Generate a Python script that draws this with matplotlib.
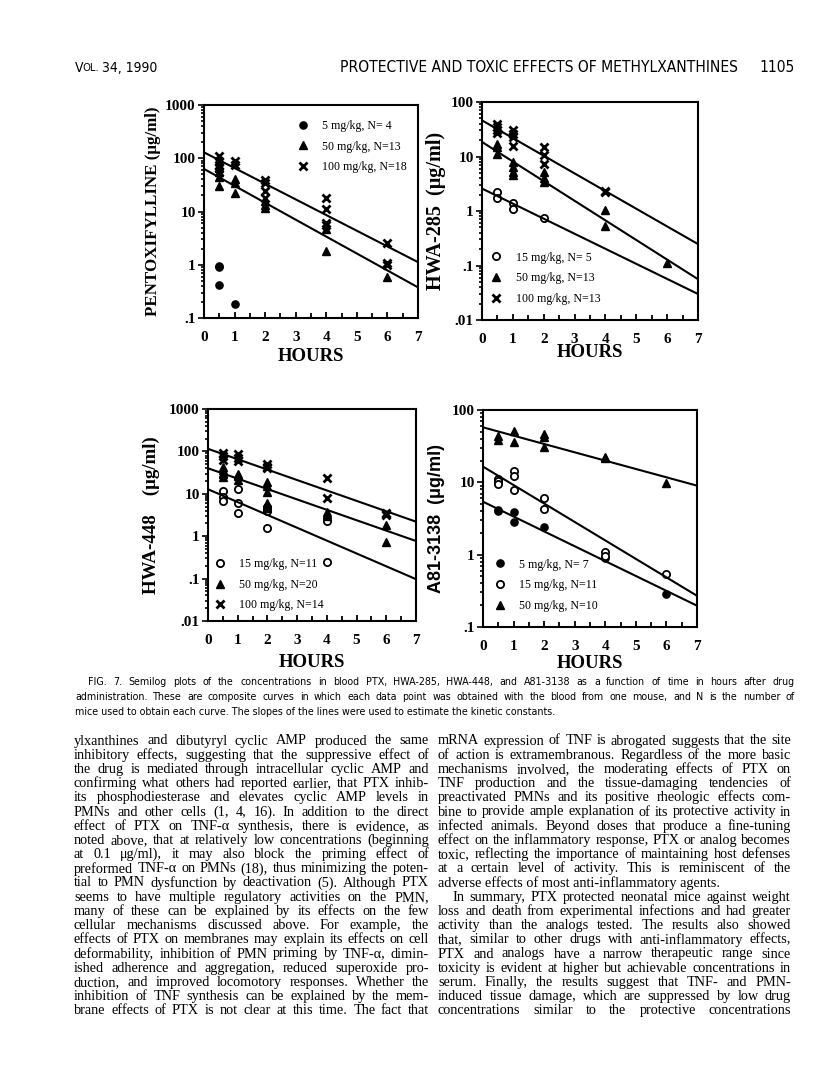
import numpy as np
import matplotlib
matplotlib.use("Agg")
import matplotlib.pyplot as plt
from matplotlib import font_manager
from matplotlib.ticker import LogLocator, MultipleLocator, FuncFormatter, NullFormatter

W, H = 816, 1092

# ---------------- data ----------------
fit_t = [0, 7]

# PTX (pentoxifylline)
ptx5_t = [0.5, 0.5, 0.5, 1]
ptx5_c = [0.95, 0.9, 0.42, 0.18]
ptx50_t = [0.5, 0.5, 0.5, 0.5, 1, 1, 1, 2, 2, 2, 4, 4, 6]
ptx50_c = [30, 45, 55, 65, 22, 35, 40, 11.5, 13, 16, 4.6, 1.8, 0.6]
ptx100_t = [0.5, 0.5, 0.5, 0.5, 0.5, 1, 1, 2, 2, 2, 2, 4, 4, 4, 4, 6, 6, 6]
ptx100_c = [110, 90, 75, 65, 55, 87, 75, 39, 35, 24, 18, 17.8, 11, 6, 5.5, 2.6, 1.07, 1.0]
ptx_fit0 = [63, 129]      # 50, 100 mg/kg lines at t=0
ptx_fit7 = [0.376, 1.12]  # ... at t=7

# HWA-285
h285_15_t = [0.5, 0.5, 1, 1, 2]
h285_15_c = [2.24, 1.7, 1.41, 1.11, 0.73]
h285_50_t = [0.5, 0.5, 0.5, 1, 1, 1, 1, 2, 2, 2, 4, 4, 6]
h285_50_c = [17, 14.9, 11.3, 7.9, 6.4, 5.2, 4.5, 5.2, 4.1, 3.4, 1.04, 0.53, 0.109]
h285_100_t = [0.5, 0.5, 0.5, 0.5, 1, 1, 1, 1, 2, 2, 2, 4, 4]
h285_100_c = [40, 35, 30, 27, 30, 26, 23, 15.4, 15, 10.5, 7.4, 2.3, 2.2]
h285_fit0 = [2.58, 18.5, 46]
h285_fit7 = [0.030, 0.056, 0.247]

# HWA-448
h448_15_t = [0.5, 0.5, 0.5, 1, 1, 1, 2, 2, 2, 4, 4]
h448_15_c = [11.9, 8.6, 6.8, 12.8, 6.0, 3.6, 5.0, 4.0, 1.53, 2.3, 0.249]
h448_50_t = [0.5] * 5 + [1] * 4 + [2] * 6 + [4] * 3 + [6] * 2
h448_50_c = [42, 36.7, 30.6, 30, 24.6, 30, 28, 25.6, 20.6, 19.4, 14.9, 11.3,
             6.0, 5.5, 4.6, 3.8, 3.3, 3.0, 1.83, 0.74]
h448_100_t = [0.5, 0.5, 0.5, 1, 1, 1, 2, 2, 2, 4, 4, 6, 6, 6]
h448_100_c = [91, 76, 63, 88, 69, 58, 51, 44, 40, 24, 7.8, 3.6, 3.4, 3.2]
h448_fit0 = [12.8, 40, 115]
h448_fit7 = [0.097, 0.77, 2.2]

# A81-3138
a81_5_t = [0.5, 0.5, 1, 1, 2, 4, 6]
a81_5_c = [4.2, 4.0, 3.9, 2.8, 2.45, 0.9, 0.29]
a81_15_t = [0.5, 0.5, 0.5, 1, 1, 1, 2, 2, 4, 4, 6]
a81_15_c = [11, 10.5, 9.5, 14.5, 12.3, 7.9, 6.0, 4.3, 1.1, 0.95, 0.54]
a81_50_t = [0.5, 0.5, 1, 1, 2, 2, 2, 4, 4, 6]
a81_50_c = [43.7, 39, 52, 36.5, 46, 43, 30.5, 22.7, 21.6, 9.7]
a81_fit0 = [5.4, 16.5, 57.6]
a81_fit7 = [0.197, 0.27, 9.0]

ylabels = ["PENTOXIFYLLINE (\u03bcg/ml)", "HWA-285  (\u03bcg/ml)",
           "HWA-448    (\u03bcg/ml)", "A81-3138  (\u03bcg/ml)"]
legend_ptx = ["5 mg/kg, N= 4", "50 mg/kg, N=13", "100 mg/kg, N=18"]
legend_285 = ["15 mg/kg, N= 5", "50 mg/kg, N=13", "100 mg/kg, N=13"]
legend_448 = ["15 mg/kg, N=11", "50 mg/kg, N=20", "100 mg/kg, N=14"]
legend_a81 = ["5 mg/kg, N= 7", "15 mg/kg, N=11", "50 mg/kg, N=10"]

caption = [
    "FIG. 7. Semilog plots of the concentrations in blood PTX, HWA-285, HWA-448, and A81-3138 as a function of time in hours after drug",
    "administration. These are composite curves in which each data point was obtained with the blood from one mouse, and N is the number of",
    "mice used to obtain each curve. The slopes of the lines were used to estimate the kinetic constants.",
]
left_col = [
    "ylxanthines and dibutyryl cyclic AMP produced the same",
    "inhibitory effects, suggesting that the suppressive effect of",
    "the drug is mediated through intracellular cyclic AMP and",
    "confirming what others had reported earlier, that PTX inhib-",
    "its phosphodiesterase and elevates cyclic AMP levels in",
    "PMNs and other cells (1, 4, 16). In addition to the direct",
    "effect of PTX on TNF-\u03b1 synthesis, there is evidence, as",
    "noted above, that at relatively low concentrations (beginning",
    "at 0.1 \u03bcg/ml), it may also block the priming effect of",
    "preformed TNF-\u03b1 on PMNs (18), thus minimizing the poten-",
    "tial to PMN dysfunction by deactivation (5). Although PTX",
    "seems to have multiple regulatory activities on the PMN,",
    "many of these can be explained by its effects on the few",
    "cellular mechanisms discussed above. For example, the",
    "effects of PTX on membranes may explain its effects on cell",
    "deformability, inhibition of PMN priming by TNF-\u03b1, dimin-",
    "ished adherence and aggregation, reduced superoxide pro-",
    "duction, and improved locomotory responses. Whether the",
    "inhibition of TNF synthesis can be explained by the mem-",
    "brane effects of PTX is not clear at this time. The fact that",
]
right_col = [
    "mRNA expression of TNF is abrogated suggests that the site",
    "of action is extramembranous. Regardless of the more basic",
    "mechanisms involved, the moderating effects of PTX on",
    "TNF production and the tissue-damaging tendencies of",
    "preactivated PMNs and its positive rheologic effects com-",
    "bine to provide ample explanation of its protective activity in",
    "infected animals. Beyond doses that produce a fine-tuning",
    "effect on the inflammatory response, PTX or analog becomes",
    "toxic, reflecting the importance of maintaining host defenses",
    "at a certain level of activity. This is reminiscent of the",
    "adverse effects of most anti-inflammatory agents.",
    "In summary, PTX protected neonatal mice against weight",
    "loss and death from experimental infections and had greater",
    "activity than the analogs tested. The results also showed",
    "that, similar to other drugs with anti-inflammatory effects,",
    "PTX and analogs have a narrow therapeutic range since",
    "toxicity is evident at higher but achievable concentrations in",
    "serum. Finally, the results suggest that TNF- and PMN-",
    "induced tissue damage, which are suppressed by low drug",
    "concentrations similar to the protective concentrations",
]

# ---------------- figure ----------------
fig = plt.figure(figsize=(W / 100, H / 100), dpi=100)
renderer = fig.canvas.get_renderer()
fonts = font_manager.fontManager.ttflist
names = {f.name for f in fonts}
SERIF = "Liberation Serif"

# narrow sans for the caption / running head, if one is installed
if "Liberation Sans Narrow" in names:
    NARROW = dict(family="Liberation Sans Narrow")
elif any(f.name == "DejaVu Sans" and f.stretch == "condensed" for f in fonts):
    NARROW = dict(family="DejaVu Sans", fontstretch="condensed")
else:
    NARROW = dict(family="Liberation Sans")


def fx(x, y):
    return x / W, 1 - y / H


def width_of(t):
    return t.get_window_extent(renderer).width


def fit_size(s, target, **kw):
    t = fig.text(0, 0, s, fontsize=10, **kw)
    w = width_of(t)
    t.remove()
    return 10 * target / w


def put_line(s, x0, x1, y, justify=True, **kw):
    if not justify:
        fig.text(*fx(x0, y), s, va="center", **kw)
        return
    words = s.split(" ")
    ts = [fig.text(*fx(x0, y), w, va="center", **kw) for w in words]
    ws = [width_of(t) for t in ts]
    gap = (x1 - x0 - sum(ws)) / max(len(words) - 1, 1)
    x = x0
    for t, w in zip(ts, ws):
        t.set_x(x / W)
        x += w + gap


def ytick_fmt(v, pos):
    if v >= 1:
        return "%d" % round(v)
    return ("%g" % v).lstrip("0")


def setup_axes(rect, ymin, ymax, ylabel, ylab_x, xlab_y, ylab_family, ylab_size):
    ax = fig.add_axes(rect)
    ax.set_yscale("log")
    ax.set_xlim(0, 7)
    ax.set_ylim(ymin, ymax)
    ax.xaxis.set_major_locator(MultipleLocator(1))
    ax.xaxis.set_minor_locator(MultipleLocator(0.5))
    ax.yaxis.set_major_locator(LogLocator(base=10))
    ax.yaxis.set_minor_locator(LogLocator(base=10, subs=np.arange(2, 10)))
    ax.yaxis.set_major_formatter(FuncFormatter(ytick_fmt))
    ax.yaxis.set_minor_formatter(NullFormatter())
    for sp in ax.spines.values():
        sp.set_linewidth(1.5)
    ax.tick_params(axis="x", which="both", direction="in", width=1.3, pad=9)
    ax.tick_params(axis="x", which="major", length=4.5)
    ax.tick_params(axis="x", which="minor", length=3.5)
    ax.tick_params(axis="y", which="both", direction="out", width=1.2, pad=1.5)
    ax.tick_params(axis="y", which="major", length=4.5)
    ax.tick_params(axis="y", which="minor", length=2.5)
    for lab in ax.get_xticklabels() + ax.get_yticklabels():
        lab.set_fontfamily(SERIF)
        lab.set_fontweight("bold")
        lab.set_fontsize(11)
    ax.set_xlabel("HOURS", fontfamily=SERIF, fontweight="bold", fontsize=13.5, va="center")
    ax.xaxis.set_label_coords(0.5, xlab_y)
    ax.set_ylabel(ylabel, fontfamily=ylab_family, fontweight="bold", fontsize=ylab_size, va="center")
    ax.yaxis.set_label_coords(ylab_x, 0.5)
    return ax


MS = dict(ls="none", ms=5.2, color="black")
mk_fill = dict(marker="o", mfc="black", mec="black", **MS)
mk_open = dict(marker="o", mfc="white", mec="black", mew=1.3, **MS)
mk_tri = dict(marker="^", mfc="black", mec="black", **MS)
mk_x = dict(marker="x", mew=2.0, **MS)
LINE = dict(color="black", lw=1.5)
LEG = dict(frameon=False, prop={"family": SERIF, "size": 8.6}, handlelength=0.8,
           handletextpad=1.2, borderpad=0, borderaxespad=0, labelspacing=0.72)


def panel(ax, groups, fit0, fit7, labels, leg_loc, leg_anchor):
    hs = []
    for (t, c, style), lab in zip(groups, labels):
        hs.append(ax.plot(t, c, label=lab, **style)[0])
    for a, b in zip(fit0, fit7):
        ax.plot(fit_t, [a, b], **LINE)
    ax.legend(handles=hs, loc=leg_loc, bbox_to_anchor=leg_anchor, **LEG)


# panel positions in pixels: left, top, right, bottom
def rect(l, t, r, b):
    return [l / W, 1 - b / H, (r - l) / W, (b - t) / H]


ax1 = setup_axes(rect(204, 105, 418, 318), 0.1, 1000, ylabels[0], -0.24, -0.183, SERIF, 12.2)
panel(ax1, [(ptx5_t, ptx5_c, mk_fill), (ptx50_t, ptx50_c, mk_tri), (ptx100_t, ptx100_c, mk_x)],
      ptx_fit0, ptx_fit7, legend_ptx, "upper left", (0.44, 0.93))

ax2 = setup_axes(rect(482, 102, 698, 320), 0.01, 100, ylabels[1], -0.215, -0.151, SERIF, 14.5)
panel(ax2, [(h285_15_t, h285_15_c, mk_open), (h285_50_t, h285_50_c, mk_tri), (h285_100_t, h285_100_c, mk_x)],
      h285_fit0, h285_fit7, legend_285, "lower left", (0.045, 0.07))

ax3 = setup_axes(rect(208, 409, 416, 621), 0.01, 1000, ylabels[2], -0.27, -0.198, SERIF, 13.6)
panel(ax3, [(h448_15_t, h448_15_c, mk_open), (h448_50_t, h448_50_c, mk_tri), (h448_100_t, h448_100_c, mk_x)],
      h448_fit0, h448_fit7, legend_448, "lower left", (0.035, 0.045))

ax4 = setup_axes(rect(483, 410, 697, 627), 0.1, 100, ylabels[3], -0.215, -0.166, "Liberation Sans", 13)
panel(ax4, [(a81_5_t, a81_5_c, mk_fill), (a81_15_t, a81_15_c, mk_open), (a81_50_t, a81_50_c, mk_tri)],
      a81_fit0, a81_fit7, legend_a81, "lower left", (0.055, 0.07))

# ---------------- page text ----------------
hdr = dict(NARROW, color="black")
fig.text(*fx(75, 68), "V", va="center", fontsize=10, **hdr)
t_ol = fig.text(*fx(82, 68), "OL.", va="center", fontsize=8, **hdr)
fig.text(*fx(82 + width_of(t_ol) + 3, 68), "34, 1990", va="center", fontsize=10, **hdr)
head = "PROTECTIVE AND TOXIC EFFECTS OF METHYLXANTHINES"
hs = fit_size(head, 398, **hdr)
fig.text(*fx(340, 68), head, va="center", fontsize=hs, **hdr)
fig.text(*fx(795, 68), "1105", va="center", ha="right", fontsize=hs, **hdr)

cs = fit_size(caption[2], 485, **NARROW)
cap_kw = dict(NARROW, fontsize=cs)
put_line(caption[0], 88, 795, 682, **cap_kw)
put_line(caption[1], 75, 795, 697, **cap_kw)
put_line(caption[2], 75, 795, 712, justify=False, **cap_kw)

# body type size: the widest set lines just fill their column
bs = min(fit_size(left_col[7], 352, family=SERIF),
         fit_size(right_col[5], 350, family=SERIF))
body_kw = dict(fontsize=bs, family=SERIF)
y0, dy = 741, 14.2
for i, s in enumerate(left_col):
    put_line(s, 74, 429, y0 + i * dy, **body_kw)
for i, s in enumerate(right_col):
    x0 = 452 if i == 11 else 438
    put_line(s, x0, 791, y0 + i * dy, justify=(i != 10), **body_kw)

fig.savefig("out.png", dpi=100)
